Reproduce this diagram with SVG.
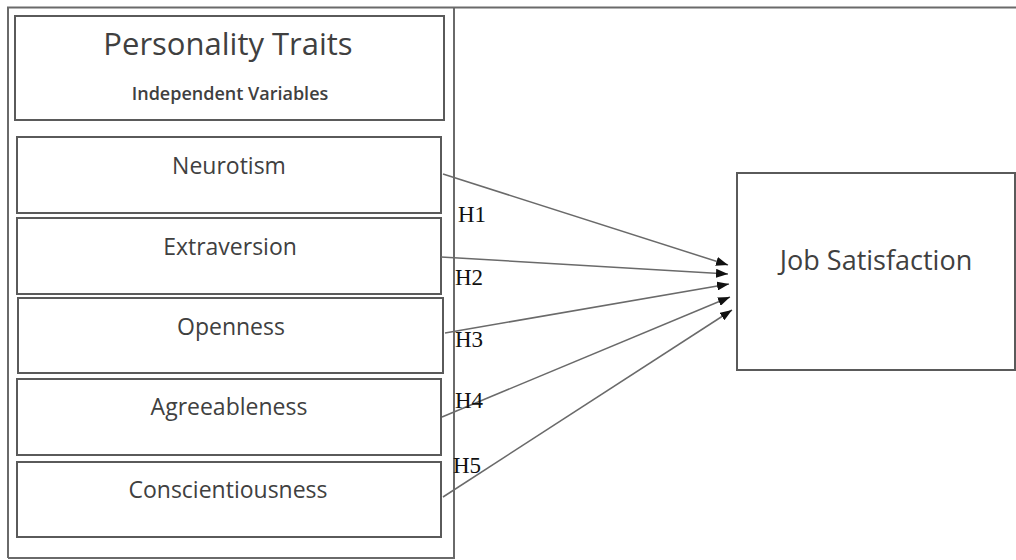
<svg xmlns="http://www.w3.org/2000/svg" width="1016" height="560" viewBox="0 0 1016 560">
<defs>
<style>
.box{fill:#fff;stroke:#5a5a5a;stroke-width:2}
.frame{fill:none;stroke:#6a6a6a;stroke-width:2}
.lbl{font-family:"Open Sans","Liberation Sans",sans-serif;fill:#404040;text-anchor:middle}
.h{font-family:"Liberation Serif","DejaVu Serif",serif;font-size:23px;fill:#111}
.conn{stroke:#6a6a6a;stroke-width:1.5;fill:none;marker-end:url(#ah)}
</style>
<marker id="ah" markerUnits="userSpaceOnUse" viewBox="0 0 12 9" markerWidth="12" markerHeight="9" refX="12" refY="4.5" orient="auto">
<path d="M0,0 L12,4.5 L0,9 Z" fill="#111"/>
</marker>
</defs>
<rect width="1016" height="560" fill="#fff"/>
<g id="frame">
<path class="frame" d="M8,558 V7.5 H1016"/>
<path class="frame" d="M454,7.5 V558 H8"/>
</g>
<g id="title">
<rect class="box" x="15" y="16" width="429" height="104"/>
<text class="lbl" x="228" y="55" font-size="31">Personality Traits</text>
<text class="lbl" x="230" y="100" font-size="18" font-weight="600">Independent Variables</text>
</g>
<g id="neurotism">
<rect class="box" x="17" y="137" width="424" height="76"/>
<text class="lbl" x="229" y="174" font-size="23">Neurotism</text>
</g>
<g id="extraversion">
<rect class="box" x="17" y="218" width="424" height="76"/>
<text class="lbl" x="230" y="255" font-size="23">Extraversion</text>
</g>
<g id="openness">
<rect class="box" x="18" y="298" width="425" height="75"/>
<text class="lbl" x="231" y="335" font-size="23">Openness</text>
</g>
<g id="agreeableness">
<rect class="box" x="17" y="379" width="424" height="76"/>
<text class="lbl" x="229" y="415" font-size="23">Agreeableness</text>
</g>
<g id="conscientiousness">
<rect class="box" x="17" y="462" width="424" height="75"/>
<text class="lbl" x="228" y="498" font-size="23">Conscientiousness</text>
</g>
<g id="job">
<rect class="box" x="737" y="173" width="278" height="197"/>
<text class="lbl" x="876" y="270" font-size="27">Job Satisfaction</text>
</g>
<g id="connectors">
<line class="conn" x1="443" y1="174" x2="728" y2="265"/>
<line class="conn" x1="441" y1="257" x2="728" y2="274"/>
<line class="conn" x1="445" y1="333" x2="729" y2="284"/>
<line class="conn" x1="442" y1="417" x2="730" y2="297"/>
<line class="conn" x1="443" y1="497" x2="732" y2="310"/>
<text class="h" x="458" y="222">H1</text>
<text class="h" x="455" y="285">H2</text>
<text class="h" x="455" y="347">H3</text>
<text class="h" x="455" y="408">H4</text>
<text class="h" x="453" y="473">H5</text>
</g>
</svg>
